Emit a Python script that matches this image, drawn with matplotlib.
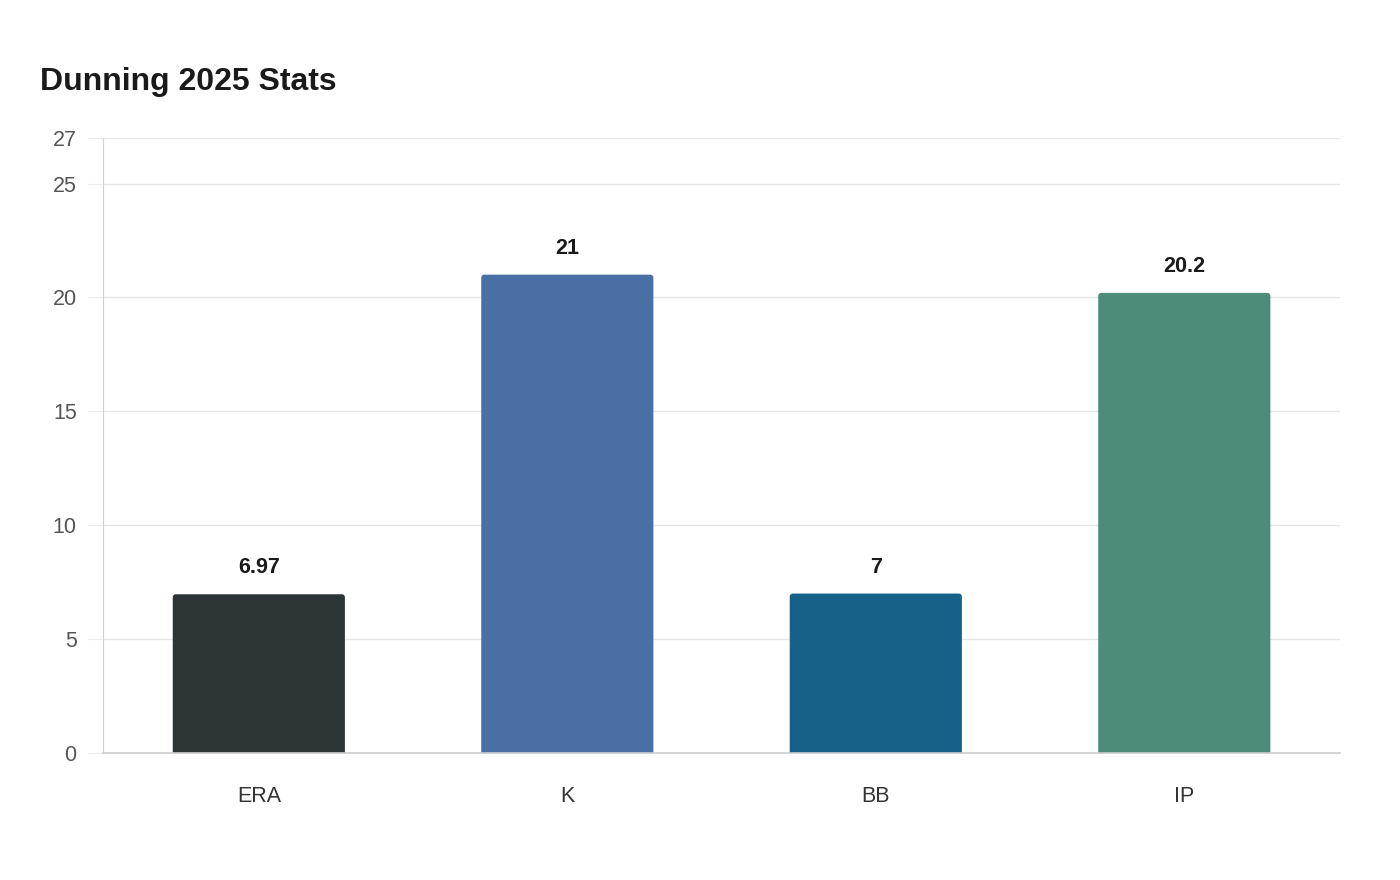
import matplotlib.pyplot as plt
from matplotlib.patches import FancyBboxPatch

plt.rcParams['font.family'] = ['Liberation Sans', 'DejaVu Sans']

categories = ["ERA", "K", "BB", "IP"]
values = [6.97, 21, 7, 20.2]
labels = ["6.97", "21", "7", "20.2"]
colors = ["#2d3436", "#4a6fa5", "#176087", "#4d8b7a"]
yticks = [0, 5, 10, 15, 20, 25, 27]

fig = plt.figure(figsize=(14, 8.8), dpi=100)
ax = fig.add_axes([0.0736, 0.1443, 0.8836, 0.6989])
ax.set_xlim(-0.505, 3.505)
ax.set_ylim(0, 27)

width = 0.558
# radius in px converted to data units
px_x = 4.01 / (0.8836 * 1400)
px_y = 27 / (0.6989 * 880)
r = 3 * px_x
aspect = px_y / px_x
for i, (v, c) in enumerate(zip(values, colors)):
    box = FancyBboxPatch((i - width / 2 + r, -3 * px_y + r * aspect), width - 2 * r,
                         v + 3 * px_y - 2 * r * aspect,
                         boxstyle=f"round,pad={r}", mutation_aspect=aspect,
                         facecolor=c, edgecolor="none", zorder=3, clip_on=True)
    ax.add_patch(box)
    ax.annotate(labels[i], (i, v), xytext=(0, 11.5), textcoords="offset points",
                ha="center", va="bottom", fontsize=15.5, fontweight="bold",
                color="#1a1a1a")

ax.set_xticks(range(len(categories)))
ax.set_xticklabels(categories, fontsize=15.5, color="#333333")
ax.tick_params(axis="x", length=0, pad=24)
ax.set_yticks(yticks)
ax.set_yticklabels([str(t) for t in yticks], fontsize=15.5, color="#555555")
ax.tick_params(axis="y", length=11, color="#ebebeb", pad=8)
ax.grid(axis="y", color="#e6e6e6", linewidth=1, zorder=0)
ax.set_axisbelow(True)

for s in ["top", "right"]:
    ax.spines[s].set_visible(False)
ax.spines["left"].set_color("#d0d0d0")
ax.spines["left"].set_linestyle((0, (1, 1)))
ax.spines["left"].set_linewidth(0.8)
ax.spines["bottom"].set_color("#cccccc")
ax.spines["bottom"].set_linewidth(1.2)
ax.spines["bottom"].set_zorder(4)

fig.text(40 / 1400, 1 - 82 / 880, "Dunning 2025 Stats", fontsize=23,
         fontweight="bold", color="#1a1a1a", ha="left", va="center")

fig.savefig("out.png", dpi=100, facecolor="white")
